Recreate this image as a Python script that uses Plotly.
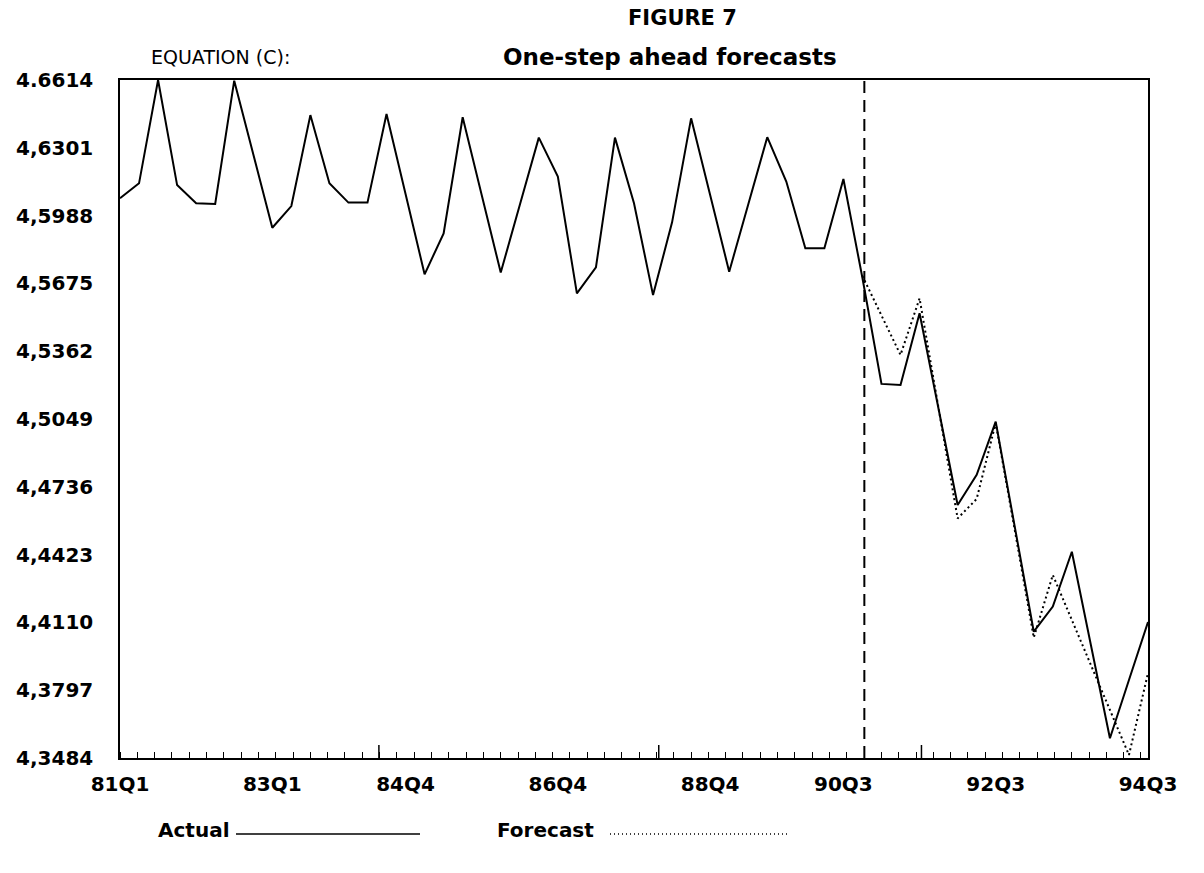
import plotly.graph_objects as go

# Quarterly observations, 81Q1 .. 94Q3
quarters = [f"{y}Q{q}" for y in range(81, 95) for q in range(1, 5)][:55]

actual = [
    4.6068, 4.6137, 4.6614, 4.6129, 4.6045, 4.6042, 4.6611, 4.6272, 4.5932, 4.6032,
    4.6452, 4.6137, 4.6048, 4.6048, 4.6457, 4.6088, 4.5717, 4.5906, 4.6442, 4.6083,
    4.5725, 4.6037, 4.6348, 4.6168, 4.5629, 4.5749, 4.6348, 4.6045, 4.5621, 4.5957,
    4.6437, 4.6083, 4.5729, 4.6039, 4.6350, 4.6145, 4.5837, 4.5837, 4.6157, 4.5700,
    4.5211, 4.5206, 4.5537, 4.5095, 4.4652, 4.4791, 4.5037, 4.4552, 4.4067, 4.4183,
    4.4436, 4.4006, 4.3575, 4.3844, 4.4112,
]

# One-step ahead forecasts, 90Q4 .. 94Q3
forecast_start = "90Q4"
forecast = [
    4.5709, 4.5525, 4.5345, 4.5606, 4.5100, 4.4590, 4.4680, 4.5031,
    4.4537, 4.4040, 4.4329, 4.4121, 4.3914, 4.3706, 4.3498, 4.3876,
]

x_tick_labels = ["81Q1", "83Q1", "84Q4", "86Q4", "88Q4", "90Q3", "92Q3", "94Q3"]
y_tick_values = [4.3484, 4.3797, 4.4110, 4.4423, 4.4736, 4.5049,
                 4.5362, 4.5675, 4.5988, 4.6301, 4.6614]
y_tick_labels = ["4,3484", "4,3797", "4,4110", "4,4423", "4,4736", "4,5049",
                 "4,5362", "4,5675", "4,5988", "4,6301", "4.6614"]

idx = list(range(len(quarters)))
f0 = quarters.index(forecast_start)
f_idx = list(range(f0, f0 + len(forecast)))
x_tick_vals = [quarters.index(q) for q in x_tick_labels]

FONT = "DejaVu Sans"

fig = go.Figure()
fig.add_trace(go.Scatter(
    x=idx, y=actual, mode="lines", name="Actual",
    line=dict(color="black", width=2), hoverinfo="skip",
))
fig.add_trace(go.Scatter(
    x=f_idx, y=forecast, mode="lines", name="Forecast",
    line=dict(color="black", width=2, dash="2px,3px"), hoverinfo="skip",
))

# start of the forecast period
fig.add_shape(type="line", xref="x", yref="paper", x0=f0 + 0.1, x1=f0 + 0.1, y0=0, y1=1,
              line=dict(color="black", width=2, dash="12px,7px"))

# taller marks on the time axis
for xv in [13.6, 28.3, 42.1]:
    fig.add_shape(type="line", xref="x", yref="paper", x0=xv, x1=xv,
                  y0=0, y1=13 / 678, line=dict(color="black", width=1.5))

fig.update_xaxes(
    range=[0, len(quarters) - 1],
    tickmode="array", tickvals=x_tick_vals, ticktext=x_tick_labels,
    ticks="", showgrid=False, zeroline=False,
    showline=True, linecolor="black", linewidth=1.5, mirror=True,
    tickfont=dict(family=FONT, size=20, color="black", weight="bold"),
    ticklabelstandoff=7,
    minor=dict(tick0=0, dtick=0.909, ticks="inside", ticklen=6,
               tickcolor="black", tickwidth=1, showgrid=False),
)
fig.update_yaxes(
    range=[4.3484, 4.6614],
    tickmode="array", tickvals=y_tick_values, ticktext=y_tick_labels,
    ticks="", showgrid=False, zeroline=False,
    showline=True, linecolor="black", linewidth=1.5, mirror=True,
    tickfont=dict(family=FONT, size=20, color="black", weight="bold"),
    ticklabelstandoff=21,
)

W, H = 1204, 873
L, R, T, B = 120, 56, 80, 115
pw, ph = W - L - R, H - T - B


def px(x):
    return (x - L) / pw


def py(y):
    return (H - B - y) / ph


annotations = [
    dict(text="<b>FIGURE 7</b>", x=px(682), y=py(18), xanchor="center", yanchor="middle",
         font=dict(family=FONT, size=21)),
    dict(text="EQUATION (C):", x=px(149), y=py(57), xanchor="left", yanchor="middle",
         font=dict(family=FONT, size=19)),
    dict(text="<b>One-step ahead forecasts</b>", x=px(670), y=py(57), xanchor="center",
         yanchor="middle", font=dict(family=FONT, size=23)),
    dict(text="<b>Actual</b>", x=px(156), y=py(830), xanchor="left", yanchor="middle",
         font=dict(family=FONT, size=20)),
    dict(text="<b>Forecast</b>", x=px(495), y=py(830), xanchor="left", yanchor="middle",
         font=dict(family=FONT, size=20)),
]
for a in annotations:
    a.update(xref="paper", yref="paper", showarrow=False)
    a["font"]["color"] = "black"

# legend samples
fig.add_shape(type="line", xref="paper", yref="paper", x0=px(236), x1=px(420),
              y0=py(834), y1=py(834), line=dict(color="black", width=1.5))
fig.add_shape(type="line", xref="paper", yref="paper", x0=px(610), x1=px(790),
              y0=py(834), y1=py(834), line=dict(color="black", width=1.5, dash="1px,3px"))

fig.update_layout(
    width=W, height=H,
    margin=dict(l=L, r=R, t=T, b=B),
    plot_bgcolor="white", paper_bgcolor="white",
    showlegend=False,
    annotations=annotations,
    font=dict(family=FONT, color="black"),
)

fig.write_html("out.html")
